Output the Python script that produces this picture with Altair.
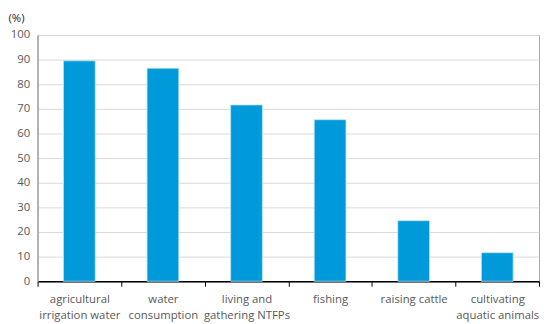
import altair as alt
import pandas as pd

categories = [
    "agricultural\nirrigation water",
    "water\nconsumption",
    "living and\ngathering NTFPs",
    "fishing",
    "raising cattle",
    "cultivating\naquatic animals",
]
values = [89.5, 86.5, 71.6, 65.6, 24.6, 11.6]

df = pd.DataFrame({"category": categories, "value": values})

chart = (
    alt.Chart(df)
    .mark_bar(color="#009ADA", width=alt.RelativeBandSize(0.38), stroke="#bfe6f7", strokeWidth=0.8)
    .encode(
        x=alt.X(
            "category:N",
            sort=categories,
            scale=alt.Scale(paddingInner=0, paddingOuter=0),
            axis=alt.Axis(
                title=None,
                labelAngle=0,
                labelExpr="split(datum.label, '\\n')",
                labelFont="Open Sans",
                labelFontSize=11.5,
                labelColor="#595959",
                labelPadding=8,
                labelLineHeight=16,
                tickBand="extent",
                tickColor="#000000",
                tickSize=5,
                domainColor="#000000",
                domainWidth=1.5,
                grid=False,
            ),
        ),
        y=alt.Y(
            "value:Q",
            scale=alt.Scale(domain=[0, 100]),
            axis=alt.Axis(
                values=list(range(0, 101, 10)),
                title="(%)",
                titleAngle=0,
                titleAlign="left",
                titleBaseline="top",
                titleX=-30,
                titleY=-23,
                titleFont="Open Sans",
                titleFontSize=11.5,
                titleFontWeight="normal",
                titleColor="#262626",
                labelFont="Open Sans",
                labelFontSize=11.5,
                labelColor="#595959",
                labelPadding=8,
                ticks=False,
                domainColor="#a6a6a6",
                domainWidth=1.5,
                gridColor="#d9d9d9",
                gridWidth=1,
            ),
        ),
    )
    .properties(
        width=509,
        height=250,
        autosize=alt.AutoSizeParams(type="none"),
        padding={"left": 30, "top": 25, "right": 3, "bottom": 41},
    )
    .configure_view(stroke="#a6a6a6", strokeWidth=1)
)

chart.save("out.html", embed_options={"renderer": "svg", "actions": False})
